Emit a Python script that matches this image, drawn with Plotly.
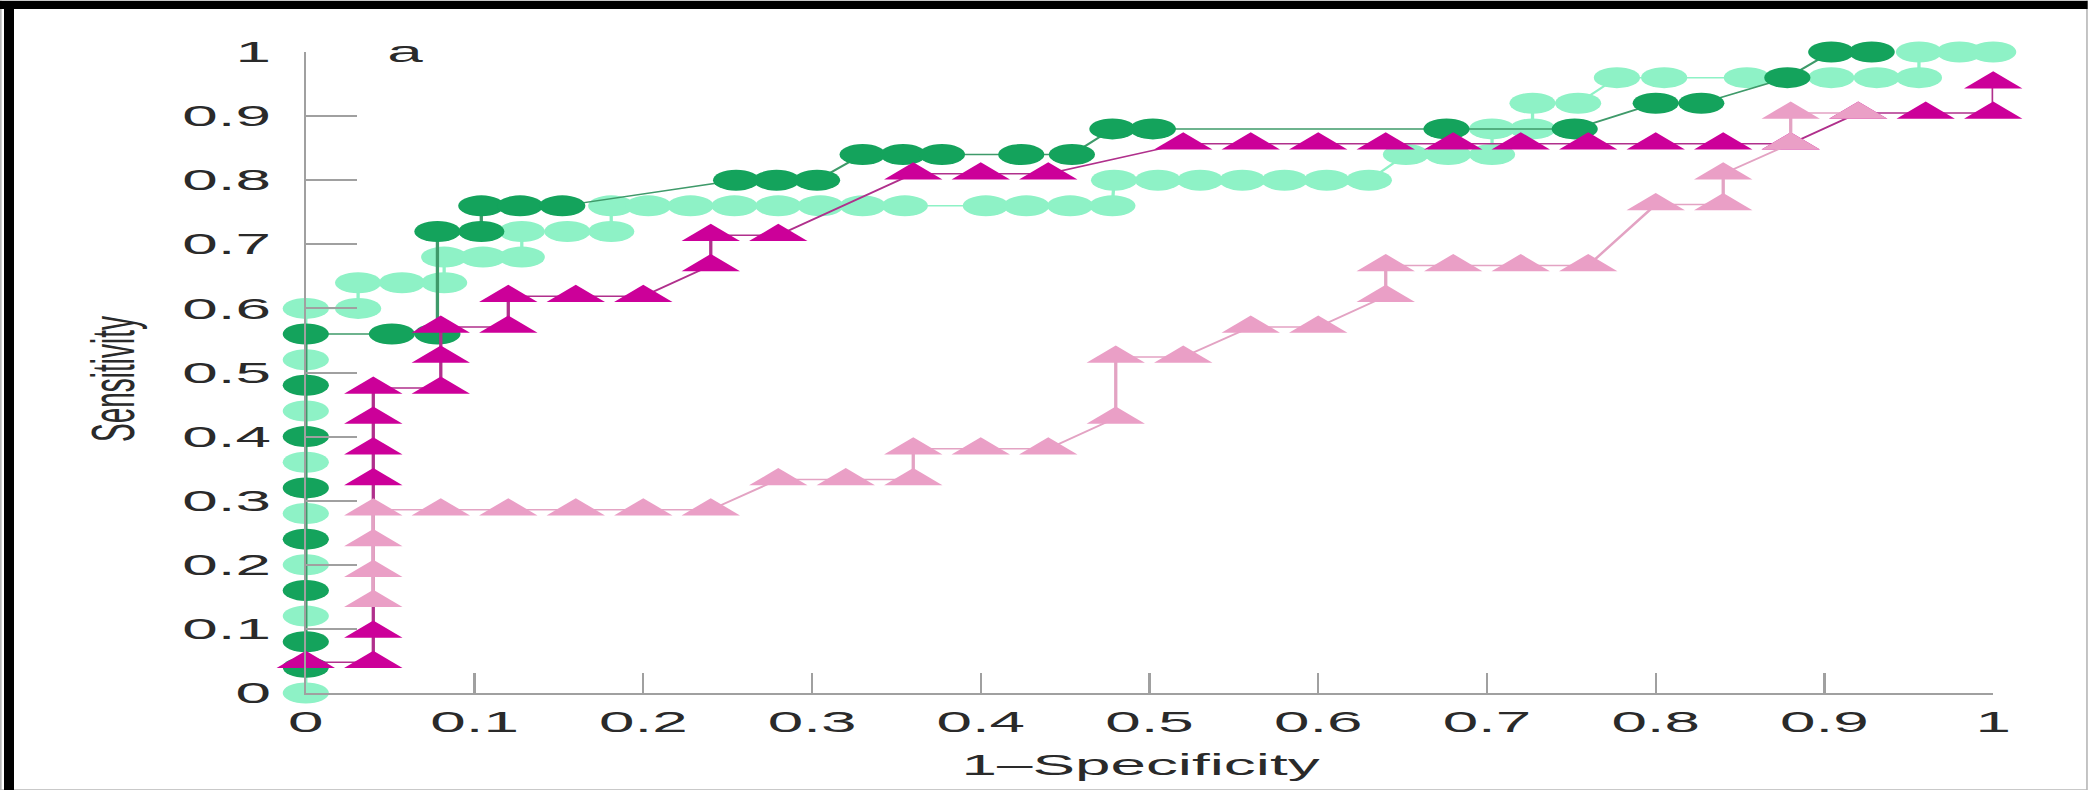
import plotly.graph_objects as go

# ---- figure geometry: the page is drawn narrow and stretched horizontally ----
STRETCH = 2.2
FULL_W, FULL_H = 2088, 790
W = 949                      # layout width before the horizontal stretch
H = FULL_H
L, R, T, B = 139, 43, 52, 97

# ---- axis ticks ----
x_ticks = [0, 0.1, 0.2, 0.3, 0.4, 0.5, 0.6, 0.7, 0.8, 0.9, 1]
x_tick_labels = ["0", "0.1", "0.2", "0.3", "0.4", "0.5", "0.6", "0.7", "0.8", "0.9", "1"]
y_ticks = [0, 0.1, 0.2, 0.3, 0.4, 0.5, 0.6, 0.7, 0.8, 0.9, 1]
y_tick_labels = ["0", "0.1", "0.2", "0.3", "0.4", "0.5", "0.6", "0.7", "0.8", "0.9", "1"]

# ---- ROC curves (1-specificity, sensitivity) ----
light_fpr = [0, 0, 0, 0, 0, 0, 0, 0, 0.031, 0.031, 0.057, 0.082, 0.082, 0.105, 0.128,
             0.128, 0.155, 0.181, 0.181, 0.203, 0.228, 0.254, 0.280, 0.305, 0.330, 0.355,
             0.403, 0.427, 0.453, 0.478, 0.479, 0.505, 0.530, 0.555, 0.580, 0.605, 0.630,
             0.652, 0.677, 0.703, 0.703, 0.727, 0.727, 0.754, 0.777, 0.805, 0.854, 0.904,
             0.931, 0.956, 0.956, 0.980, 1.0]
light_tpr = [0, 0.12, 0.20, 0.28, 0.36, 0.44, 0.52, 0.60, 0.60, 0.64, 0.64, 0.64, 0.68, 0.68, 0.68,
             0.72, 0.72, 0.72, 0.76, 0.76, 0.76, 0.76, 0.76, 0.76, 0.76, 0.76,
             0.76, 0.76, 0.76, 0.76, 0.80, 0.80, 0.80, 0.80, 0.80, 0.80, 0.80,
             0.84, 0.84, 0.84, 0.88, 0.88, 0.92, 0.92, 0.96, 0.96, 0.96, 0.96,
             0.96, 0.96, 1.0, 1.0, 1.0]

dark_fpr = [0, 0, 0, 0, 0, 0, 0, 0, 0.051, 0.078, 0.078, 0.104, 0.104, 0.127, 0.152,
            0.255, 0.279, 0.303, 0.330, 0.354, 0.377, 0.424, 0.454, 0.478, 0.502,
            0.676, 0.752, 0.800, 0.827, 0.878, 0.904, 0.928]
dark_tpr = [0.04, 0.08, 0.16, 0.24, 0.32, 0.40, 0.48, 0.56, 0.56, 0.56, 0.72, 0.72, 0.76, 0.76, 0.76,
            0.80, 0.80, 0.80, 0.84, 0.84, 0.84, 0.84, 0.84, 0.88, 0.88,
            0.88, 0.88, 0.92, 0.92, 0.96, 1.0, 1.0]

magenta_fpr = [0, 0.04, 0.04, 0.04, 0.04, 0.04, 0.04, 0.08, 0.08, 0.08, 0.12, 0.12, 0.16, 0.20,
               0.24, 0.24, 0.28, 0.36, 0.40, 0.44, 0.52, 0.56, 0.60, 0.64, 0.68, 0.72,
               0.76, 0.80, 0.84, 0.88, 0.92, 0.96, 1.0, 1.0]
magenta_tpr = [0.048, 0.048, 0.095, 0.333, 0.381, 0.429, 0.476, 0.476, 0.524, 0.571, 0.571, 0.619,
               0.619, 0.619, 0.667, 0.714, 0.714, 0.810, 0.810, 0.810, 0.857, 0.857, 0.857,
               0.857, 0.857, 0.857, 0.857, 0.857, 0.857, 0.857, 0.905, 0.905, 0.905, 0.952]

pink_fpr = [0.04, 0.04, 0.04, 0.04, 0.08, 0.12, 0.16, 0.20, 0.24, 0.28, 0.32, 0.36, 0.36, 0.40,
            0.44, 0.48, 0.48, 0.52, 0.56, 0.60, 0.64, 0.64, 0.68, 0.72, 0.76, 0.80, 0.84, 0.84,
            0.88, 0.88, 0.92]
pink_tpr = [0.143, 0.190, 0.238, 0.286, 0.286, 0.286, 0.286, 0.286, 0.286, 0.333, 0.333, 0.333,
            0.381, 0.381, 0.381, 0.429, 0.524, 0.524, 0.571, 0.571, 0.619, 0.667, 0.667, 0.667,
            0.667, 0.762, 0.762, 0.810, 0.857, 0.905, 0.905]

FONT = "Liberation Sans, Arial, Helvetica, sans-serif"
TEXT = "#2a2a2a"
AXIS = "#a0a0a0"

fig = go.Figure()

series = [
    (light_fpr, light_tpr, "#8ef2c6", "#8ef2c6", "circle", 21),
    (dark_fpr, dark_tpr, "#14a35c", "#3f9a6a", "circle", 21),
    (magenta_fpr, magenta_tpr, "#cc0099", "#b0308c", "triangle-up", 23),
    (pink_fpr, pink_tpr, "#ea9fc6", "#e3a3c3", "triangle-up", 23),
]
for fx, fy, mcol, lcol, sym, size in series:
    fig.add_trace(go.Scatter(
        x=fx, y=fy, mode="lines+markers",
        line=dict(color=lcol, width=1.5),
        marker=dict(symbol=sym, size=size, color=mcol, line=dict(width=0)),
        cliponaxis=False, showlegend=False, hoverinfo="skip",
    ))

pw = W - L - R
ph = H - T - B


def px(xu):
    return (xu - L) / pw


def py(yu):
    return (H - B - yu) / ph


# frame around the picture
shapes = [
    dict(type="rect", xref="paper", yref="paper", x0=px(0), x1=px(W), y0=py(H), y1=py(0),
         line=dict(color="#b8b8b8", width=1.5), fillcolor="rgba(0,0,0,0)", layer="above"),
    dict(type="rect", xref="paper", yref="paper", x0=px(0), x1=px(W), y0=py(9), y1=py(1),
         line=dict(width=0), fillcolor="#000000", layer="above"),
    dict(type="rect", xref="paper", yref="paper", x0=px(4 / STRETCH), x1=px(14 / STRETCH),
         y0=py(H), y1=py(1), line=dict(width=0), fillcolor="#000000", layer="above"),
]

fig.update_layout(
    width=W, height=H,
    margin=dict(l=L, r=R, t=T, b=B, pad=0, autoexpand=False),
    paper_bgcolor="white", plot_bgcolor="white",
    font=dict(family=FONT, color=TEXT, size=29),
    shapes=shapes,
    xaxis=dict(
        range=[0, 1], tickvals=x_ticks, ticktext=x_tick_labels,
        showgrid=False, zeroline=False, showline=True, linecolor=AXIS, linewidth=2,
        ticks="inside", ticklen=20, tickwidth=1.2, tickcolor=AXIS,
        tickfont=dict(size=29, color=TEXT, family=FONT), ticklabelstandoff=2,
    ),
    yaxis=dict(
        range=[0, 1], tickvals=y_ticks, ticktext=y_tick_labels,
        showgrid=False, zeroline=False, showline=True, linecolor=AXIS, linewidth=1.1,
        ticks="inside", ticklen=23, tickwidth=2, tickcolor=AXIS,
        tickfont=dict(size=29, color=TEXT, family=FONT), ticklabelstandoff=9,
    ),
    annotations=[
        dict(text="a", x=0.045, y=1.0, xref="x", yref="y", xanchor="left", yanchor="middle",
             showarrow=False, font=dict(size=29, color=TEXT, family=FONT)),
        dict(text="Sensitivity", x=px(51), y=py(379), xref="paper", yref="paper",
             textangle=-90, xanchor="center", yanchor="middle", showarrow=False,
             font=dict(size=28, color=TEXT, family=FONT)),
        dict(text="1\u2013Specificity", x=px(1141 / STRETCH), y=py(765), xref="paper",
             yref="paper", xanchor="center", yanchor="middle", showarrow=False,
             font=dict(size=29, color=TEXT, family=FONT)),
    ],
)

stretch_js = (
    "var d = document.getElementById('{plot_id}');"
    "d.style.transformOrigin = '0 0';"
    "d.style.transform = 'scaleX(%s)';"
    "document.body.style.margin = '0';"
    "document.body.style.overflow = 'hidden';" % STRETCH
)

fig.write_html("out.html", post_script=stretch_js)
